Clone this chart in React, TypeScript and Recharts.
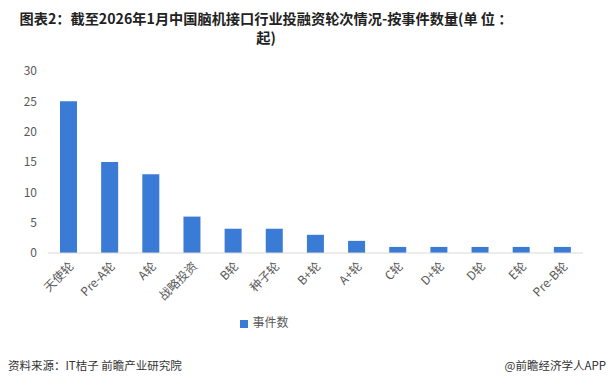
import React from 'react';
import { BarChart, Bar, XAxis, YAxis, Legend } from 'recharts';

const categories = ['天使轮', 'Pre-A轮', 'A轮', '战略投资', 'B轮', '种子轮', 'B+轮', 'A+轮', 'C轮', 'D+轮', 'D轮', 'E轮', 'Pre-B轮'];
const eventCounts = [25, 15, 13, 6, 4, 4, 3, 2, 1, 1, 1, 1, 1];
const yTicks = [0, 5, 10, 15, 20, 25, 30];
const seriesName = '事件数';
const titleLine1 = '图表2：截至2026年1月中国脑机接口行业投融资轮次情况-按事件数量(单 位 ：';
const titleLine2 = '起)';
const sourceText = '资料来源：IT桔子 前瞻产业研究院';
const brandText = '@前瞻经济学人APP';

const data = categories.map((c, i) => ({ name: c, value: eventCounts[i] }));

const FONT = '"Noto Sans CJK SC", "Noto Sans", sans-serif';

export default function App() {
  return (
    <div style={{ position: 'absolute', left: 0, top: 0, width: 611, height: 387, background: '#fff', fontFamily: FONT, overflow: 'hidden' }}>
      <div style={{ position: 'absolute', left: 0, top: 9, width: 532, textAlign: 'center', fontSize: 14.2, fontWeight: 'bold', color: '#222', lineHeight: '19px' }}>
        <div>{titleLine1}</div>
        <div>{titleLine2}</div>
      </div>
      <div style={{ position: 'absolute', left: 0, top: 0 }}>
        <BarChart width={611} height={387} data={data} margin={{ top: 71, right: 28, left: 0, bottom: 57 }}>
          <YAxis
            type="number"
            domain={[0, 30]}
            ticks={yTicks}
            width={48}
            axisLine={false}
            tickLine={false}
            tickMargin={5}
            tick={{ fill: '#595959', fontSize: 12, fontFamily: FONT }}
          />
          <XAxis
            dataKey="name"
            interval={0}
            height={60}
            axisLine={{ stroke: '#d9d9d9' }}
            tickLine={false}
            angle={-45}
            textAnchor="end"
            tick={{ fill: '#595959', fontSize: 12, fontFamily: FONT }}
          />
          <Legend
            verticalAlign="bottom"
            iconType="square"
            iconSize={8}
            wrapperStyle={{ fontSize: 12, fontFamily: FONT, color: '#595959', left: -22 }}
            formatter={(v: string) => <span style={{ color: '#595959' }}>{v}</span>}
          />
          <Bar dataKey="value" name={seriesName} fill="#3A7BD5" barSize={17} isAnimationActive={false} />
        </BarChart>
      </div>
      <div style={{ position: 'absolute', left: 8, top: 357, fontSize: 11.5, color: '#333' }}>{sourceText}</div>
      <div style={{ position: 'absolute', right: 5, top: 357, fontSize: 11.5, color: '#333' }}>{brandText}</div>
    </div>
  );
}
